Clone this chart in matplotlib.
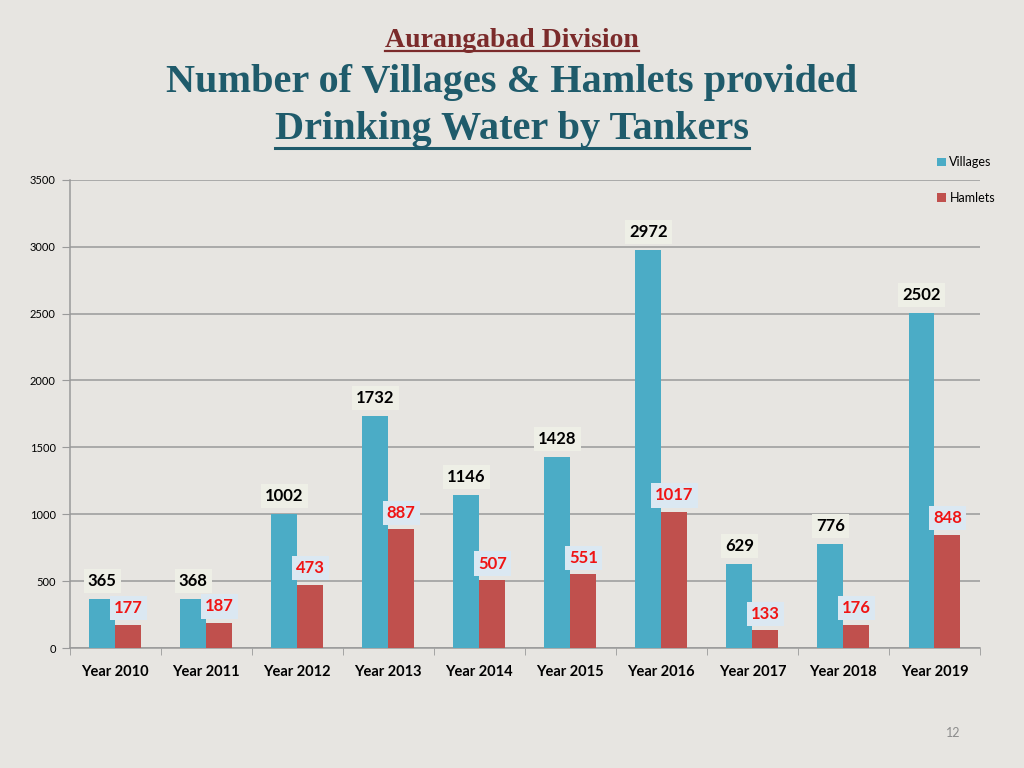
import matplotlib.pyplot as plt
import numpy as np
from matplotlib.lines import Line2D

years = ["Year 2010", "Year 2011", "Year 2012", "Year 2013", "Year 2014",
         "Year 2015", "Year 2016", "Year 2017", "Year 2018", "Year 2019"]
villages = [365, 368, 1002, 1732, 1146, 1428, 2972, 629, 776, 2502]
hamlets = [177, 187, 473, 887, 507, 551, 1017, 133, 176, 848]

village_col = "#4bacc6"
hamlet_col = "#c0504d"
bg = "#e7e5e1"


def underline(fig, txt, color, lw, gap):
    fig.canvas.draw()
    bb = txt.get_window_extent().transformed(fig.transFigure.inverted())
    y = bb.y0 + gap
    fig.add_artist(Line2D([bb.x0, bb.x1], [y, y], color=color, lw=lw,
                          transform=fig.transFigure))


def main():
    fig = plt.figure(figsize=(10.24, 7.68), dpi=100, facecolor=bg)
    ax = fig.add_axes([0.068, 0.156, 0.889, 0.610])
    ax.set_facecolor("none")

    x = np.arange(len(years))
    w = 0.285
    ax.bar(x - w / 2, villages, w, color=village_col, label="Villages", zorder=3)
    ax.bar(x + w / 2, hamlets, w, color=hamlet_col, label="Hamlets", zorder=3)

    # data labels sit just above each bar
    for xi, v in zip(x, villages):
        ax.annotate(str(v), (xi - w / 2, v), xytext=(0, 13), textcoords="offset points",
                    ha="center", va="center", fontsize=12, fontweight="bold",
                    family="Lato", color="black", zorder=5,
                    bbox=dict(boxstyle="square,pad=0.25", fc="#eeefe6", ec="none"))
    for xi, h in zip(x, hamlets):
        ax.annotate(str(h), (xi + w / 2, h), xytext=(0, 12), textcoords="offset points",
                    ha="center", va="center", fontsize=12, fontweight="bold",
                    family="Lato", color="#f01414", zorder=5,
                    bbox=dict(boxstyle="square,pad=0.25", fc="#dbe8f2", ec="none"))

    ax.set_xlim(-0.5, len(years) - 0.5)
    ax.set_ylim(0, 3500)
    ax.set_yticks(range(0, 3501, 500))
    ax.yaxis.grid(True, color="#9a9a9a", lw=1.1, zorder=1)
    ax.set_xticks(x)
    ax.set_xticklabels(years, fontsize=10.5, fontweight="bold", family="Lato")
    ax.set_xticks(np.arange(-0.5, len(years), 1), minor=True)
    ax.tick_params(axis="x", which="major", length=0, pad=12)
    ax.tick_params(axis="x", which="minor", length=5, color="#9a9a9a")
    ax.tick_params(axis="y", length=6, color="#9a9a9a", labelsize=8, pad=4)
    for lab in ax.get_yticklabels():
        lab.set_family("Lato")
    for s in ["top", "right"]:
        ax.spines[s].set_visible(False)
    for s in ["left", "bottom"]:
        ax.spines[s].set_color("#9a9a9a")
        ax.spines[s].set_linewidth(1.1)

    ax.legend(loc="upper left", bbox_to_anchor=(0.904, 0.811),
              bbox_transform=fig.transFigure, frameon=False,
              prop={"family": "Lato", "size": 9}, labelspacing=1.9,
              handlelength=0.7, handleheight=0.7, handletextpad=0.3)

    t1 = fig.text(0.5, 0.947, "Aurangabad Division", ha="center", va="center",
                  family="Liberation Serif", fontweight="bold", fontsize=20,
                  color="#7b2b2b")
    fig.text(0.5, 0.893, "Number of Villages & Hamlets provided", ha="center",
             va="center", family="Liberation Serif", fontweight="bold",
             fontsize=29, color="#1f5b6b")
    t3 = fig.text(0.5, 0.831, "Drinking Water by Tankers", ha="center",
                  va="center", family="Liberation Serif", fontweight="bold",
                  fontsize=29, color="#1f5b6b")
    underline(fig, t1, "#7b2b2b", 1.6, 0.003)
    underline(fig, t3, "#1f5b6b", 2.2, 0.001)

    fig.text(0.931, 0.045, "12", ha="center", va="center", fontsize=9,
             family="Lato", color="#8c8c8c")

    fig.savefig("out.png", dpi=100, facecolor=bg)


if __name__ == "__main__":
    main()
